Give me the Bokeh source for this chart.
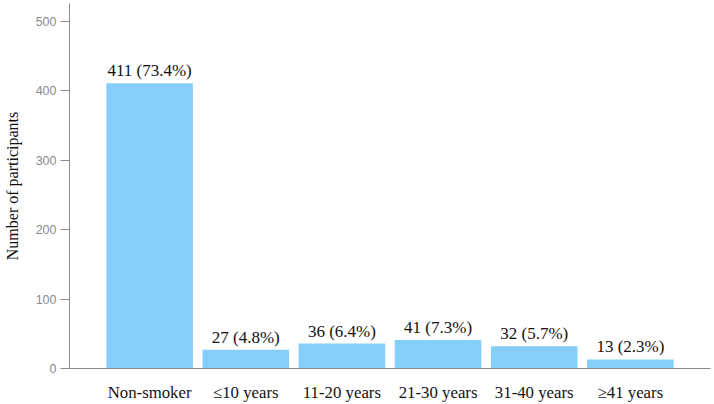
from bokeh.plotting import figure
from bokeh.models import ColumnDataSource, FactorRange, Range1d, LabelSet
from bokeh.core.properties import value
from bokeh.embed import file_html
from bokeh.resources import INLINE

categories = ["Non-smoker", "≤10 years", "11-20 years", "21-30 years", "31-40 years", "≥41 years"]
counts = [411, 27, 36, 41, 32, 13]
percents = [73.4, 4.8, 6.4, 7.3, 5.7, 2.3]
labels = [f"{c} ({p}%)" for c, p in zip(counts, percents)]

SERIF = "Liberation Serif"

src = ColumnDataSource(dict(cat=categories, n=counts, lab=labels))

p = figure(width=714, height=404, output_backend="svg", toolbar_location=None,
           x_range=FactorRange(*categories, range_padding=0.333, range_padding_units="absolute"),
           y_range=Range1d(0, 526),
           min_border_left=66, min_border_right=4, min_border_top=3, min_border_bottom=36)
p.outline_line_color = None
p.background_fill_color = "white"
p.border_fill_color = "white"

p.vbar(x="cat", top="n", width=0.9, source=src, fill_color="#86CEFA", line_color=None)

ls = LabelSet(x="cat", y="n", text="lab", source=src, text_align="center", text_baseline="bottom",
              y_offset=3, text_font=value(SERIF), text_font_size=value("17px"), text_color="#111111")
p.add_layout(ls)

p.xgrid.grid_line_color = None
p.ygrid.grid_line_color = None

p.yaxis.ticker = [0, 100, 200, 300, 400, 500]
p.yaxis.axis_line_color = "#8a8a8a"
p.yaxis.major_tick_line_color = "#8a8a8a"
p.yaxis.major_tick_out = 9
p.yaxis.major_tick_in = 0
p.yaxis.minor_tick_line_color = None
p.yaxis.major_label_text_font = "Liberation Sans"
p.yaxis.major_label_text_font_size = "12.5px"
p.yaxis.major_label_text_color = "#8a8a8a"
p.yaxis.major_label_standoff = 4
p.yaxis.axis_label = "Number of participants"
p.yaxis.axis_label_text_font = SERIF
p.yaxis.axis_label_text_font_style = "normal"
p.yaxis.axis_label_text_font_size = "16px"
p.yaxis.axis_label_text_color = "#111111"
p.yaxis.axis_label_standoff = 12

p.xaxis.axis_line_color = "#8a8a8a"
p.xaxis.major_tick_line_color = None
p.xaxis.minor_tick_line_color = None
p.xaxis.major_label_text_font = SERIF
p.xaxis.major_label_text_font_size = "16.8px"
p.xaxis.major_label_text_color = "#111111"
p.xaxis.major_label_standoff = 8

open("out.html", "w").write(file_html(p, INLINE))
